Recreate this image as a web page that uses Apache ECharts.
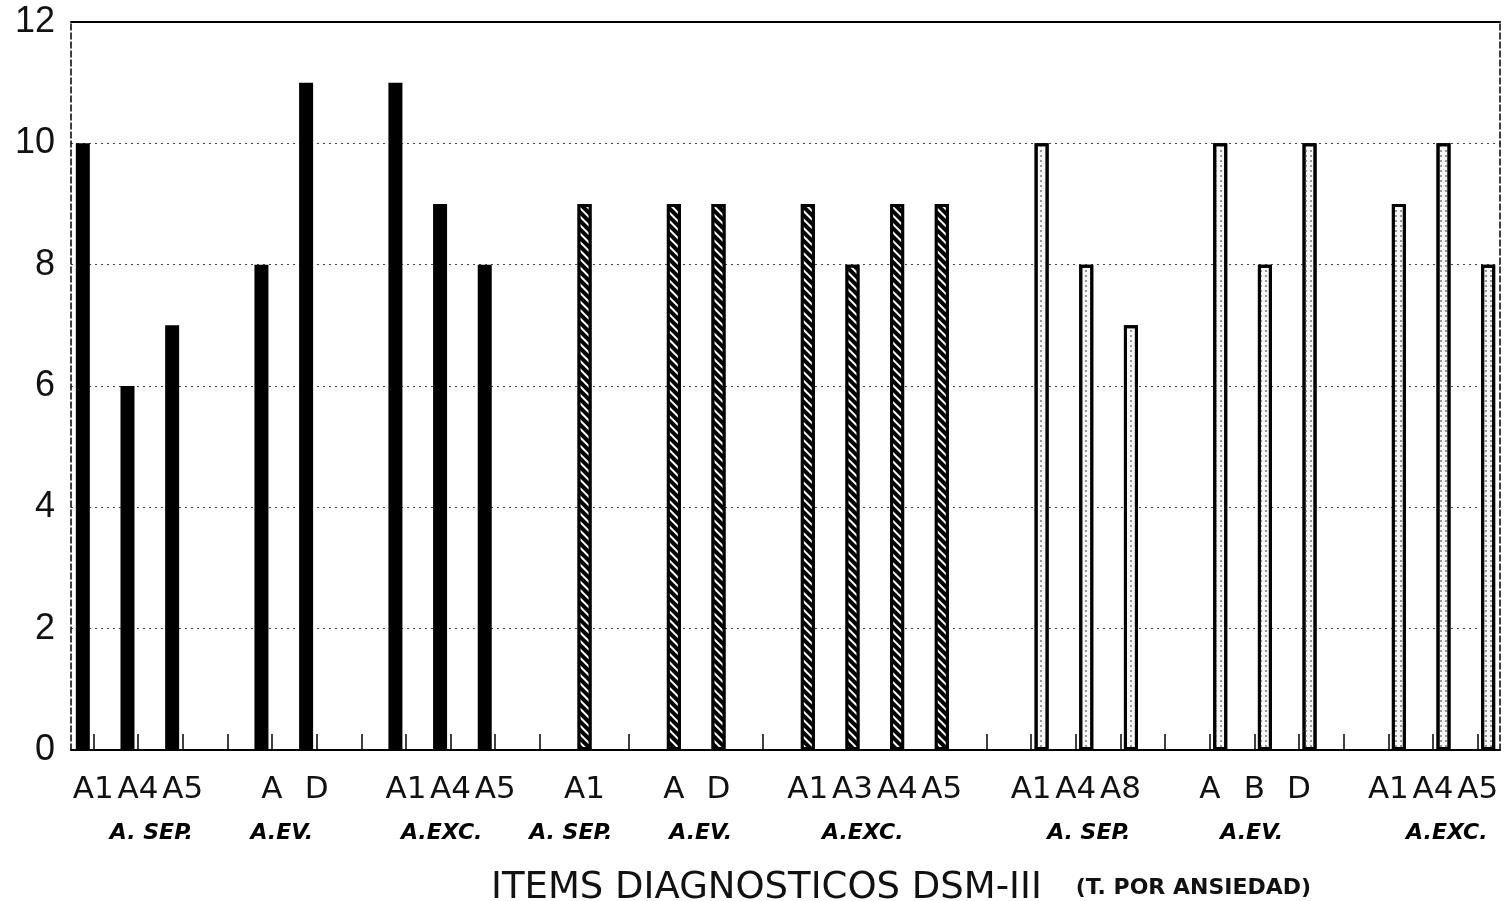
<!DOCTYPE html>
<html>
<head>
<meta charset="utf-8">
<script src="https://cdn.jsdelivr.net/npm/echarts@6/dist/echarts.min.js"></script>
<style>
  html, body { margin: 0; padding: 0; background: #fff; }
  #chart { width: 1506px; height: 901px; }
</style>
</head>
<body>
<div id="chart"></div>
<script>
// Category labels (item codes), one per slot along the x axis
const categories = ['A1','A4','A5','','A','D','','A1','A4','A5','',
                    'A1','','A','D','','A1','A3','A4','A5','',
                    'A1','A4','A8','','A','B','D','','A1','A4','A5'];
// Series 1: solid black bars
const blackValues = [10,6,7,'-',8,11,'-',11,9,8,'-',
                     '-','-','-','-','-','-','-','-','-','-',
                     '-','-','-','-','-','-','-','-','-','-','-'];
// Series 2: hatched bars
const hatchedValues = ['-','-','-','-','-','-','-','-','-','-','-',
                       9,'-',9,9,'-',9,8,9,9,'-',
                       '-','-','-','-','-','-','-','-','-','-','-'];
// Series 3: dotted (light) bars
const dottedValues = ['-','-','-','-','-','-','-','-','-','-','-',
                      '-','-','-','-','-','-','-','-','-','-',
                      10,8,7,'-',10,8,10,'-',9,10,8];
// Group (sub-category) labels and their position along the category index
const groupLabels = ['A. SEP.','A.EV.','A.EXC.','A. SEP.','A.EV.','A.EXC.','A. SEP.','A.EV.','A.EXC.'];
const groupLabelPos = [1.3, 4.22, 7.8, 10.69, 13.6, 17.23, 22.29, 25.94, 30.31];
// Y axis ticks
const yMin = 0, yMax = 12, yStep = 2;

const chart = echarts.init(document.getElementById('chart'), null, { renderer: 'canvas' });
const BW = 14;
const option = {
  animation: false,
  backgroundColor: '#fff',
  title: {
    left: 486,
    top: 865,
    text: '{a|ITEMS DIAGNOSTICOS DSM-III}{b|(T. POR ANSIEDAD)}',
    textStyle: {
      rich: {
        a: { fontFamily: 'DejaVu Sans', fontWeight: 'normal', fontSize: 37, color: '#111' },
        b: { fontFamily: 'DejaVu Sans', fontWeight: 'bold', fontSize: 22, color: '#111', padding: [0, 0, 0, 34] }
      }
    }
  },
  grid: { left: 71, right: 6, top: 22, bottom: 151, containLabel: false },
  xAxis: [
    {
      type: 'category',
      data: categories,
      position: 'bottom',
      boundaryGap: true,
      axisLine: { show: true, onZero: false, lineStyle: { color: '#000', width: 2 } },
      axisTick: { show: true, inside: true, length: 16, alignWithLabel: true, interval: 0, lineStyle: { color: '#000', width: 1.5 } },
      axisLabel: { interval: 0, margin: 24, fontFamily: 'DejaVu Sans', fontSize: 31, color: '#111' },
      splitLine: { show: false }
    },
    {
      type: 'value',
      min: -0.5,
      max: categories.length - 0.5,
      show: false
    },
    {
      type: 'category',
      data: categories,
      position: 'top',
      axisLine: { show: true, onZero: false, lineStyle: { color: '#000', width: 2 } },
      axisTick: { show: false },
      axisLabel: { show: false }
    }
  ],
  yAxis: [
    {
      type: 'value',
      min: yMin, max: yMax, interval: yStep,
      position: 'left',
      axisLine: { show: true, onZero: false, lineStyle: { color: '#000', width: 1.5, type: [6, 3] } },
      axisTick: { show: false },
      axisLabel: { margin: 16, fontFamily: 'Liberation Sans', fontSize: 36, color: '#111' },
      splitLine: { show: true, lineStyle: { color: '#444', width: 1, type: [2, 4] } }
    },
    {
      type: 'value',
      min: yMin, max: yMax, interval: yStep,
      position: 'right',
      axisLine: { show: true, onZero: false, lineStyle: { color: '#000', width: 1.5, type: [6, 3] } },
      axisTick: { show: false },
      axisLabel: { show: false },
      splitLine: { show: false }
    }
  ],
  series: [
    {
      type: 'bar',
      name: 'black',
      data: blackValues,
      barWidth: BW,
      barGap: '-25%',
      itemStyle: { color: '#000' }
    },
    {
      type: 'bar',
      name: 'hatched',
      data: hatchedValues,
      barWidth: BW,
      barGap: '-25%',
      itemStyle: {
        color: '#000',
        borderColor: '#000',
        borderWidth: 3,
        decal: { symbol: 'rect', symbolSize: 1, rotation: Math.PI / 4, dashArrayX: [1, 0], dashArrayY: [2, 4], color: '#fff' }
      }
    },
    {
      type: 'bar',
      name: 'dotted',
      data: dottedValues,
      barWidth: BW,
      barGap: '-25%',
      itemStyle: {
        color: '#f7f7f7',
        borderColor: '#000',
        borderWidth: 3,
        decal: { symbol: 'rect', symbolSize: 1, dashArrayX: [1.5, 2.5], dashArrayY: [1.5, 2.5], color: '#999' }
      }
    },
    {
      type: 'scatter',
      xAxisIndex: 1,
      yAxisIndex: 0,
      symbolSize: 0,
      silent: true,
      itemStyle: { opacity: 1 },
      data: groupLabelPos.map((p, i) => ({ value: [p, 0], name: groupLabels[i] })),
      label: {
        show: true,
        position: 'bottom',
        distance: 72,
        formatter: (p) => p.name,
        fontFamily: 'DejaVu Sans',
        fontWeight: 'bold',
        fontStyle: 'italic',
        fontSize: 22,
        color: '#000',
        opacity: 1
      }
    }
  ]
};
chart.setOption(option);
</script>
</body>
</html>
